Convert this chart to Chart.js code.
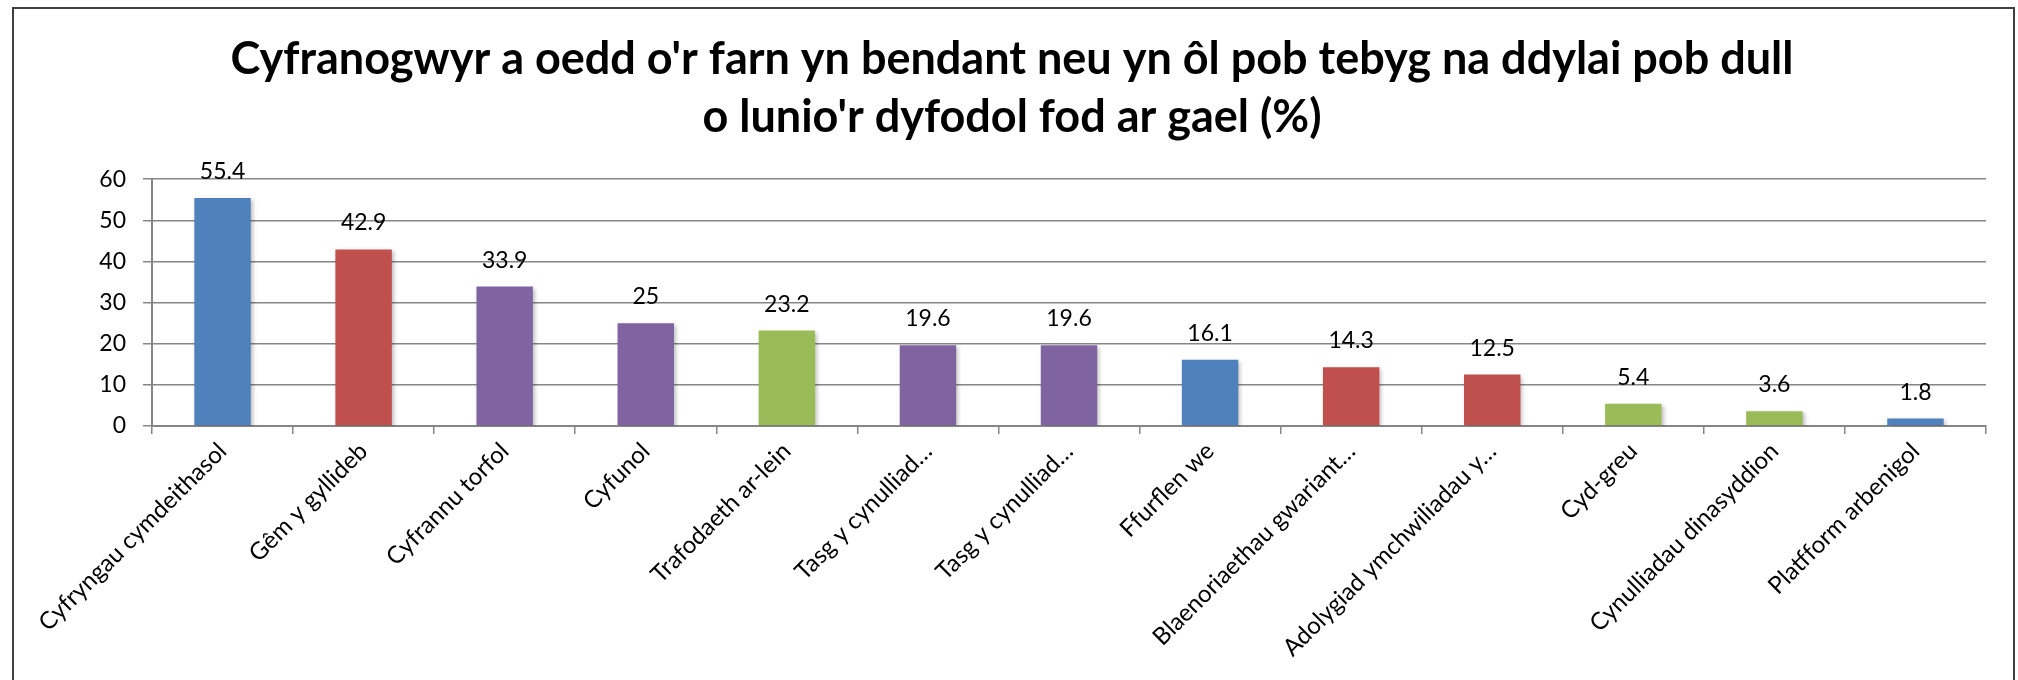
<!DOCTYPE html>
<html>
<head>
<meta charset="utf-8">
<script src="https://cdn.jsdelivr.net/npm/chart.js@4/dist/chart.umd.min.js"></script>
<style>
  html, body { margin: 0; padding: 0; background: #fff; }
</style>
</head>
<body>
<canvas id="grafico" width="2018" height="680"></canvas>
<script>
// dados do gráfico
let titulo = [
  "Cyfranogwyr a oedd o'r farn yn bendant neu yn ôl pob tebyg na ddylai pob dull",
  "o lunio'r dyfodol fod ar gael (%)"
];
let categorias = [
  "Cyfryngau cymdeithasol",
  "Gêm y gyllideb",
  "Cyfrannu torfol",
  "Cyfunol",
  "Trafodaeth ar-lein",
  "Tasg y cynulliad…",
  "Tasg y cynulliad…",
  "Ffurflen we",
  "Blaenoriaethau gwariant…",
  "Adolygiad ymchwiliadau y…",
  "Cyd-greu",
  "Cynulliadau dinasyddion",
  "Platfform arbenigol"
];
let valores = [55.4, 42.9, 33.9, 25, 23.2, 19.6, 19.6, 16.1, 14.3, 12.5, 5.4, 3.6, 1.8];
let ticksY = [0, 10, 20, 30, 40, 50, 60];

// cores (paleta office)
let azul = "#4F81BD";
let vermelho = "#C0504D";
let roxo = "#8064A2";
let verde = "#9BBB59";
let cores = [azul, vermelho, roxo, roxo, verde, roxo, roxo, azul, vermelho, vermelho, verde, verde, azul];

let cinza = "#868686";

// moldura + fundo
let moldura = {
  id: "moldura",
  beforeDraw(chart) {
    let ctx = chart.ctx;
    ctx.save();
    ctx.fillStyle = "#fff";
    ctx.fillRect(0, 0, chart.width, chart.height);
    ctx.strokeStyle = "#404040";
    ctx.lineWidth = 2;
    ctx.strokeRect(13, 8, 2001, 700);
    ctx.restore();
  }
};

// sombra leve nas barras
let sombra = {
  id: "sombra",
  beforeDatasetsDraw(chart) {
    let ctx = chart.ctx;
    ctx.save();
    ctx.shadowColor = "rgba(0,0,0,0.25)";
    ctx.shadowBlur = 4;
    ctx.shadowOffsetX = 2;
    ctx.shadowOffsetY = 2;
  },
  afterDatasetsDraw(chart) {
    chart.ctx.restore();
  }
};

// valores em cima das barras
let rotulos = {
  id: "rotulos",
  afterDraw(chart) {
    let ctx = chart.ctx;
    let meta = chart.getDatasetMeta(0);
    ctx.save();
    ctx.fillStyle = "#000";
    ctx.font = "23px Lato";
    ctx.textAlign = "center";
    ctx.textBaseline = "alphabetic";
    meta.data.forEach((barra, i) => {
      ctx.fillText(String(valores[i]), barra.x, barra.y - 19);
    });
    ctx.restore();
  }
};

let ctx = document.getElementById("grafico").getContext("2d");

let chart = new Chart(ctx, {
  type: "bar",
  data: {
    labels: categorias,
    datasets: [{
      data: valores,
      backgroundColor: cores,
      borderWidth: 0,
      categoryPercentage: 1,
      barPercentage: 0.4
    }]
  },
  options: {
    responsive: false,
    animation: false,
    layout: { padding: { left: 38, right: 32, top: 0, bottom: 0 } },
    plugins: {
      legend: { display: false },
      tooltip: { enabled: false },
      title: {
        display: true,
        text: titulo,
        color: "#000",
        font: { family: "Lato", size: 45, weight: "bold", lineHeight: 1.29 },
        padding: { top: 30, bottom: 33 }
      }
    },
    scales: {
      x: {
        grid: {
          display: true,
          drawOnChartArea: false,
          drawTicks: true,
          tickLength: 8,
          color: cinza,
          lineWidth: 1.5,
          offset: true
        },
        border: { color: cinza, width: 2 },
        ticks: {
          autoSkip: false,
          maxRotation: 45,
          minRotation: 45,
          color: "#000",
          font: { family: "Lato", size: 24 },
          padding: 3
        },
        afterFit: s => { s.height = 254; }
      },
      y: {
        min: ticksY[0],
        max: ticksY[ticksY.length - 1],
        ticks: {
          stepSize: ticksY[1] - ticksY[0],
          color: "#000",
          font: { family: "Lato", size: 23 },
          padding: 17
        },
        grid: { color: cinza, lineWidth: 1.5, tickLength: 9 },
        border: { color: cinza, width: 2 },
        afterFit: s => { s.width = 114; }
      }
    }
  },
  plugins: [moldura, sombra, rotulos]
});
</script>
</body>
</html>
